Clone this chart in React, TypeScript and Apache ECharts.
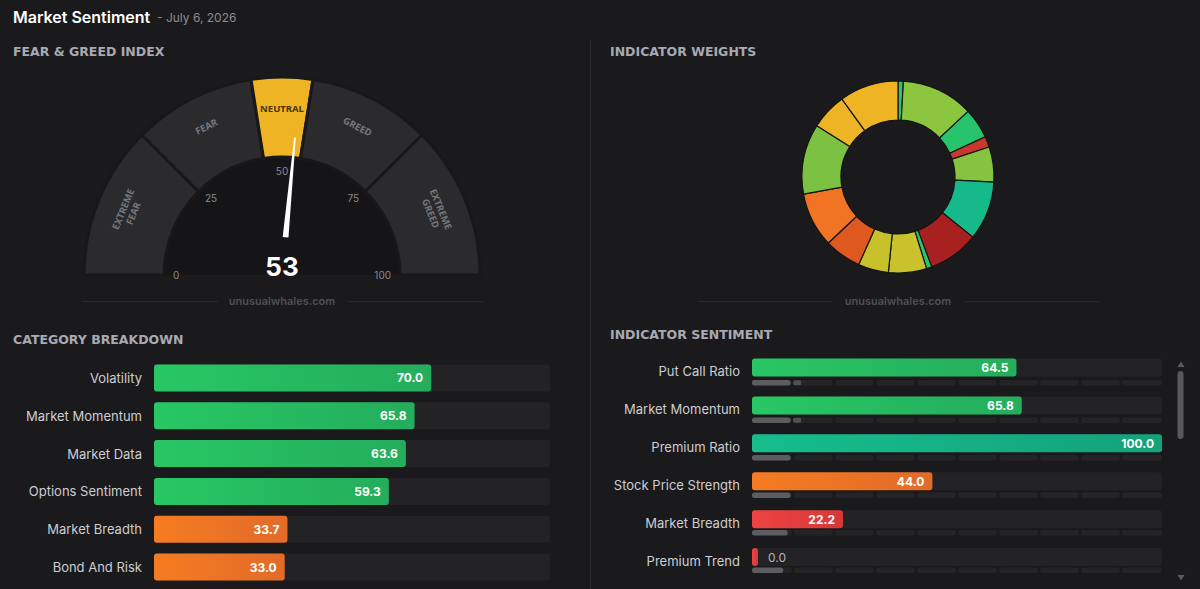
import React, { useEffect, useRef } from 'react';
import * as echarts from 'echarts';

// ---- Fear & Greed gauge ----
const fearGreedValue = 53;
const zoneNames = ['EXTREME\nFEAR', 'FEAR', 'NEUTRAL', 'GREED', 'EXTREME\nGREED'];
const zoneUpper = [25, 45, 55, 75, 100];

// ---- Indicator weights donut (clockwise from 12 o'clock) ----
const weightValues = [0.9, 12.1, 5.1, 1.8, 5.9, 9.9, 8.5, 0.9, 6.4, 5.1, 6.2, 9.2, 11.8, 6.1, 9.9];
const weightColors = [
  '#2fc46a', '#8cc63e', '#27c46c', '#c7392c', '#86c440', '#16b98a', '#a8201f', '#2fc46a',
  '#c9c22c', '#c6c02a', '#df5820', '#f07424', '#7dc142', '#edb425', '#efb424',
];

// ---- Category breakdown ----
const categoryNames = ['Volatility', 'Market Momentum', 'Market Data', 'Options Sentiment', 'Market Breadth', 'Bond And Risk'];
const categoryScores = [70.0, 65.8, 63.6, 59.3, 33.7, 33.0];

// ---- Indicator sentiment ----
const indicatorNames = ['Put Call Ratio', 'Market Momentum', 'Premium Ratio', 'Stock Price Strength', 'Market Breadth', 'Premium Trend'];
const indicatorScores = [64.5, 65.8, 100.0, 44.0, 22.2, 0.0];
const indicatorWeights = [9.4, 9.4, 9.4, 9.4, 8.7, 7.6];
const indicatorWeightMarks = [11.0, 11.0, null, null, null, null];

const BG = '#1a1a1c';
const SEGMENTS = 10;

function scoreColors(v: number): [string, string] {
  if (v >= 75) return ['#17bd8c', '#14a27b'];
  if (v >= 55) return ['#28c764', '#24ad5c'];
  if (v >= 45) return ['#eeb424', '#d9a21e'];
  if (v >= 25) return ['#f57c21', '#e26b29'];
  return ['#ee4343', '#d63838'];
}

function barItem(v: number) {
  const [c0, c1] = scoreColors(v);
  return {
    value: v,
    itemStyle: {
      color: new echarts.graphic.LinearGradient(0, 0, 1, 0, [
        { offset: 0, color: c0 },
        { offset: 1, color: c1 },
      ]),
    },
  };
}

const valueLabel = {
  show: true,
  position: 'insideRight',
  distance: 8,
  color: '#ffffff',
  fontFamily: 'Inter',
  fontWeight: 'bold',
  fontSize: 12,
  formatter: (p: any) => Number(p.value).toFixed(1),
};

const rowLabel = {
  color: '#cdcdd2',
  fontFamily: 'Inter',
  fontSize: 13,
  margin: 12,
};

const headerFont = { fontFamily: 'DejaVu Sans', fontWeight: 'bold', fontSize: 12.5, fill: '#a9a9b2' };

export default function App() {
  const ref = useRef<HTMLDivElement>(null);

  useEffect(() => {
    document.body.style.margin = '0';
    document.body.style.background = BG;
    if (!ref.current) return;
    const chart = echarts.init(ref.current, null, { renderer: 'svg' });

    let lower = 0;
    const zoneData: any[] = zoneNames.map((name, i) => {
      const active = fearGreedValue >= lower && fearGreedValue < zoneUpper[i];
      const item = {
        name,
        value: zoneUpper[i] - lower,
        itemStyle: { color: active ? '#eeb424' : '#2b2b2e' },
        label: { color: active ? '#4a3608' : '#77777b' },
      };
      lower = zoneUpper[i];
      return item;
    });
    zoneData.push({
      name: '',
      value: 100,
      itemStyle: { color: 'transparent', borderWidth: 0 },
      label: { show: false },
    });

    const option: any = {
      animation: false,
      backgroundColor: BG,
      grid: [
        { left: 154, top: 359, width: 396, height: 227 },
        { left: 752, top: 348.5, width: 410, height: 227.5 },
        { left: 752, top: 363.9, width: 410, height: 227.5 },
      ],
      xAxis: [0, 1, 2].map((g) => ({ type: 'value', gridIndex: g, min: 0, max: 100, show: false })),
      yAxis: [
        {
          type: 'category', gridIndex: 0, inverse: true, data: categoryNames,
          axisLine: { show: false }, axisTick: { show: false }, axisLabel: rowLabel,
        },
        {
          type: 'category', gridIndex: 1, inverse: true, data: indicatorNames,
          axisLine: { show: false }, axisTick: { show: false },
          axisLabel: {
            ...rowLabel,
            formatter: (v: string) => `{t|${v}}`,
            rich: { t: { color: '#cdcdd2', fontFamily: 'Inter', fontSize: 13, padding: [8, 0, 0, 0] } },
          },
        },
        {
          type: 'category', gridIndex: 2, inverse: true, data: indicatorNames,
          axisLine: { show: false }, axisTick: { show: false }, axisLabel: { show: false },
        },
      ],
      graphic: [
        // header
        { type: 'text', x: 13, y: 17, style: { text: 'Market Sentiment', fill: '#ffffff', fontFamily: 'Inter', fontWeight: 600, fontSize: 16, verticalAlign: 'middle' } },
        { type: 'text', x: 157, y: 17.5, style: { text: '- July 6, 2026', fill: '#8c8c92', fontFamily: 'Inter', fontSize: 12, verticalAlign: 'middle' } },
        // section titles
        { type: 'text', x: 13, y: 51, style: { text: 'FEAR & GREED INDEX', ...headerFont, verticalAlign: 'middle' } },
        { type: 'text', x: 610, y: 51, style: { text: 'INDICATOR WEIGHTS', ...headerFont, verticalAlign: 'middle' } },
        { type: 'text', x: 13, y: 339.5, style: { text: 'CATEGORY BREAKDOWN', ...headerFont, verticalAlign: 'middle' } },
        { type: 'text', x: 610, y: 334, style: { text: 'INDICATOR SENTIMENT', ...headerFont, verticalAlign: 'middle' } },
        // panel divider
        { type: 'line', shape: { x1: 590.5, y1: 40, x2: 590.5, y2: 589 }, style: { stroke: '#2c2c2f', lineWidth: 1 } },
        // gauge inner face
        { type: 'sector', shape: { cx: 282, cy: 275, r: 118, r0: 0, startAngle: Math.PI, endAngle: Math.PI * 2 }, style: { fill: '#151517' } },
        // watermarks
        { type: 'line', shape: { x1: 82, y1: 301.5, x2: 218, y2: 301.5 }, style: { stroke: '#29292c', lineWidth: 1 } },
        { type: 'line', shape: { x1: 347, y1: 301.5, x2: 483, y2: 301.5 }, style: { stroke: '#29292c', lineWidth: 1 } },
        { type: 'text', x: 282, y: 301, style: { text: 'unusualwhales.com', fill: '#4f4f54', fontFamily: 'Inter', fontWeight: 600, fontSize: 11, align: 'center', verticalAlign: 'middle' } },
        { type: 'line', shape: { x1: 698, y1: 301.5, x2: 832, y2: 301.5 }, style: { stroke: '#29292c', lineWidth: 1 } },
        { type: 'line', shape: { x1: 965, y1: 301.5, x2: 1099, y2: 301.5 }, style: { stroke: '#29292c', lineWidth: 1 } },
        { type: 'text', x: 898, y: 301, style: { text: 'unusualwhales.com', fill: '#4f4f54', fontFamily: 'Inter', fontWeight: 600, fontSize: 11, align: 'center', verticalAlign: 'middle' } },
        // scrollbar
        { type: 'polygon', shape: { points: [[1177.5, 367], [1184.5, 367], [1181, 361.5]] }, style: { fill: '#5c5c60' } },
        { type: 'rect', shape: { x: 1177.5, y: 371, width: 6, height: 68, r: 3 }, style: { fill: '#59595d' } },
        { type: 'polygon', shape: { points: [[1177.5, 575], [1184.5, 575], [1181, 580.5]] }, style: { fill: '#5c5c60' } },
      ],
      series: [
        // gauge zones
        {
          type: 'pie',
          z: 2,
          center: [282, 275],
          radius: [118, 198],
          startAngle: 180,
          clockwise: true,
          silent: true,
          avoidLabelOverlap: false,
          itemStyle: { borderColor: '#18181a', borderWidth: 3 },
          label: {
            show: true, position: 'inside', rotate: 'tangential',
            fontFamily: 'Noto Sans', fontWeight: 'bold', fontSize: 9.5, lineHeight: 11,
            // trailing blank line nudges the caption towards the outer rim
            formatter: (p: any) => `${p.name}\n `,
          },
          labelLine: { show: false },
          emphasis: { disabled: true },
          data: zoneData,
        },
        // gauge ticks, needle and value
        {
          type: 'gauge',
          z: 6,
          center: [282, 275],
          radius: 118,
          startAngle: 180,
          endAngle: 0,
          min: 0,
          max: 100,
          splitNumber: 4,
          axisLine: { show: false, lineStyle: { color: [[1, '#8a8a8f']] } },
          axisTick: { show: false },
          splitLine: { show: false, length: 0, distance: 0 },
          axisLabel: { distance: 9, color: '#8a8a8f', fontFamily: 'Inter', fontSize: 10 },
          progress: { show: false },
          anchor: { show: false },
          pointer: {
            show: true,
            icon: 'path://M-0.8 0 L0.8 0 L2.9 100 L-2.9 100 Z M-0.01 138 L0.01 138 L0 137.99 Z',
            length: 138,
            width: 5.8,
            offsetCenter: [0, 0],
            itemStyle: { color: '#ffffff' },
          },
          title: { show: false },
          detail: {
            offsetCenter: [0, -9],
            fontSize: 26,
            fontWeight: 'bold',
            fontFamily: 'Inter',
            color: '#ffffff',
            formatter: '{value}',
          },
          data: [{ value: fearGreedValue }],
        },
        // indicator weights donut
        {
          type: 'pie',
          center: [898, 177],
          radius: [57, 96],
          startAngle: 90,
          clockwise: true,
          silent: true,
          label: { show: false },
          labelLine: { show: false },
          itemStyle: { borderColor: '#141416', borderWidth: 1.2 },
          data: weightValues.map((v, i) => ({ value: v, itemStyle: { color: weightColors[i] } })),
        },
        // category breakdown bars
        {
          type: 'bar',
          xAxisIndex: 0,
          yAxisIndex: 0,
          barWidth: 27,
          showBackground: true,
          backgroundStyle: { color: '#232326', borderRadius: 3 },
          itemStyle: { borderRadius: 3 },
          label: valueLabel,
          data: categoryScores.map(barItem),
        },
        // indicator sentiment bars
        {
          type: 'bar',
          xAxisIndex: 1,
          yAxisIndex: 1,
          barWidth: 18,
          barMinHeight: 6,
          showBackground: true,
          backgroundStyle: { color: '#232326', borderRadius: 3 },
          itemStyle: { borderRadius: 3 },
          label: valueLabel,
          data: indicatorScores.map((v) => {
            const item: any = barItem(v);
            if (v === 0) {
              item.label = { position: 'right', distance: 10, color: '#b4b4b9', fontWeight: 'normal' };
            }
            return item;
          }),
        },
        // segmented weight tracks
        {
          type: 'custom',
          xAxisIndex: 2,
          yAxisIndex: 2,
          silent: true,
          encode: { x: 0, y: 1 },
          data: indicatorNames.map((_, i) => [100, i]),
          renderItem: (params: any, api: any) => {
            const row = api.value(1);
            const step = 100 / SEGMENTS;
            const children: any[] = [];
            for (let k = 0; k < SEGMENTS; k++) {
              const p0 = api.coord([k * step, row]);
              const p1 = api.coord([(k + 1) * step, row]);
              const x0 = p0[0] + (k > 0 ? 1.2 : 0);
              const x1 = p1[0] - (k < SEGMENTS - 1 ? 1.2 : 0);
              children.push({
                type: 'rect',
                shape: { x: x0, y: p0[1] - 2.75, width: x1 - x0, height: 5.5, r: 2 },
                style: { fill: '#242427' },
              });
            }
            return { type: 'group', children };
          },
        },
        // weight bars
        {
          type: 'bar',
          xAxisIndex: 2,
          yAxisIndex: 2,
          barWidth: 5.5,
          silent: true,
          z: 3,
          itemStyle: { color: '#5d5d61', borderRadius: 2.5 },
          data: indicatorWeights,
        },
        {
          type: 'scatter',
          xAxisIndex: 2,
          yAxisIndex: 2,
          silent: true,
          z: 4,
          symbol: 'roundRect',
          symbolSize: [8, 5],
          itemStyle: { color: '#5d5d61' },
          data: indicatorWeightMarks
            .map((v, i) => (v == null ? null : [v, i]))
            .filter((d) => d !== null),
        },
      ],
    };

    chart.setOption(option);
    return () => chart.dispose();
  }, []);

  return <div ref={ref} style={{ width: 1200, height: 589 }} />;
}
